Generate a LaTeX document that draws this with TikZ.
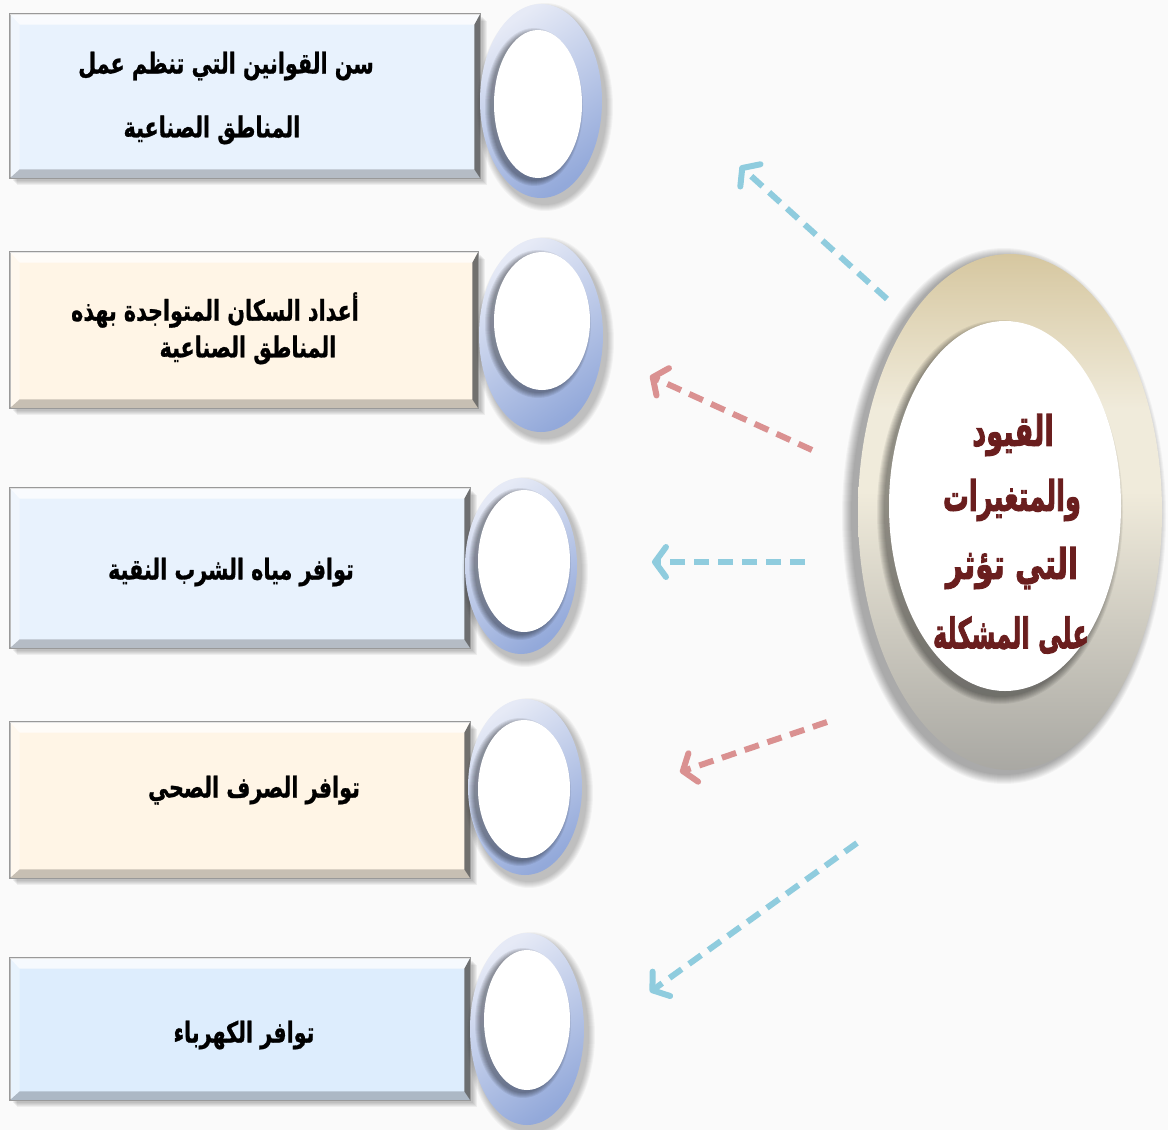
\documentclass[tikz,border=0pt]{standalone}
\usepackage{fontspec}
\newfontfamily\arabicfont[Script=Arabic, BoldFeatures={FakeBold=1}]{DejaVu Sans}
\newfontfamily\arabicheavy[Script=Arabic, BoldFeatures={FakeBold=2.5}]{DejaVu Sans}
\TeXXeTstate=1
\usetikzlibrary{arrows.meta,fit}
\definecolor{bg}{HTML}{FAFAFA}
\definecolor{boxblue}{HTML}{E8F2FD}
\definecolor{boxblueb}{HTML}{DDEDFD}
\definecolor{boxcream}{HTML}{FFF5E6}
\definecolor{ringlight}{HTML}{E6EAF6}
\definecolor{ringdark}{HTML}{93A9DA}
\definecolor{arrblue}{HTML}{8FCCDE}
\definecolor{arrred}{HTML}{DA9191}
\definecolor{maroon}{HTML}{6A1E1E}
\definecolor{tantop}{HTML}{D6C7A0}
\definecolor{tanmid}{HTML}{F0EBDB}
\definecolor{tanbot}{HTML}{A9A8A3}
\pgfdeclareverticalshading{tanshade}{100bp}{color(0bp)=(tanbot); color(25bp)=(tanbot); color(52bp)=(tanmid); color(60bp)=(tanmid); color(75bp)=(tantop); color(100bp)=(tantop)}
\tikzset{
  boxtext/.style={font=\arabicfont\bfseries\fontsize{22}{26}\selectfont, text=black, inner sep=0pt},
  bigtext/.style={font=\arabicheavy\bfseries\fontsize{31}{36}\selectfont, text=maroon, inner sep=0pt},
  dasharrow/.style={line width=6pt, dash pattern=on 15pt off 9pt,
     -{Straight Barb[length=11pt,width=30pt,line cap=round,line join=round]}},
}
\newcommand\bevbox[6]{%
  \foreach \k in {1,...,5}{\fill[black,opacity=0.05] ({#2+2+\k},{#3+2+\k}) rectangle ({#4+2+\k},{#5+2+\k});}
  \coordinate (#1-a) at (#2,#3);
  \coordinate (#1-b) at (#4,#5);
  \node[fit=(#1-a)(#1-b), inner sep=0pt, fill=#6, draw=gray!80, line width=0.8pt] (#1) {};
  \fill[white,opacity=0.75] (#1.north west) -- (#1.north east) -- ([shift={(-6,11)}]#1.north east) -- ([shift={(10,11)}]#1.north west) -- cycle;
  \fill[white,opacity=0.35] (#1.north west) -- ([shift={(10,11)}]#1.north west) -- ([shift={(10,-9)}]#1.south west) -- (#1.south west) -- cycle;
  \fill[black!65,opacity=0.85] (#1.north east) -- (#1.south east) -- ([shift={(-6,-9)}]#1.south east) -- ([shift={(-6,11)}]#1.north east) -- cycle;
  \fill[black,opacity=0.22] (#1.south west) -- (#1.south east) -- ([shift={(-6,-9)}]#1.south east) -- ([shift={(10,-9)}]#1.south west) -- cycle;
  \draw[gray!80,line width=0.8pt] (#1.north west) rectangle (#1.south east);
}
% ring: ox oy orx ory ix iy irx iry
\newcommand\ring[8]{%
  \foreach \k in {1,...,7}{\fill[black,opacity=0.035] ({#1+4},{#2+6}) ellipse [x radius={#3+\k}, y radius={#4+\k}];}
  \shade[top color=ringlight, bottom color=ringdark, shading angle=35] (#1,#2) ellipse [x radius=#3, y radius=#4];
  \foreach \k in {1,...,6}{\fill[black,opacity=0.07] ({#5-4},{#6+3}) ellipse [x radius={#7+\k-1}, y radius={#8+\k-1}];}
  \fill[white] (#5,#6) ellipse [x radius=#7, y radius=#8];
}
\begin{document}
\begin{tikzpicture}[x=1pt,y=-1pt]
\fill[bg] (0,0) rectangle (1168,1130);
\useasboundingbox (0,0) rectangle (1168,1130);

% boxes
\bevbox{b1}{10}{14}{480}{178}{boxblue}
\bevbox{b2}{10}{252}{478}{408}{boxcream}
\bevbox{b3}{10}{488}{470}{648}{boxblue}
\bevbox{b4}{10}{722}{470}{878}{boxcream}
\bevbox{b5}{10}{958}{470}{1100}{boxblueb}

% rings
\ring{541}{101}{61}{97}{538}{104}{44}{74}
\ring{541}{335}{62}{97}{542}{321}{48}{69}
\ring{521}{566}{56}{88}{524}{561}{46}{71}
\ring{525}{787}{57}{88}{524}{789}{46}{69}
\ring{527}{1029}{57}{96}{527}{1020}{43}{70}

% box texts
\node[boxtext] (t1a) at (226,66) {\scalebox{0.94}[1.3]{\beginR سن القوانين التي تنظم عمل\endR}};
\node[boxtext] (t1b) at (212,130) {\scalebox{0.94}[1.3]{\beginR المناطق الصناعية\endR}};
\node[boxtext] (t2a) at (215,310) {\scalebox{0.94}[1.3]{\beginR أعداد السكان المتواجدة بهذه\endR}};
\node[boxtext] (t2b) at (248,350) {\scalebox{0.94}[1.3]{\beginR المناطق الصناعية\endR}};
\node[boxtext] (t3) at (231,572) {\scalebox{0.94}[1.3]{\beginR توافر مياه الشرب النقية\endR}};
\node[boxtext] (t4) at (254,790) {\scalebox{0.94}[1.3]{\beginR توافر الصرف الصحي\endR}};
\node[boxtext] (t5) at (244,1035) {\scalebox{0.94}[1.3]{\beginR توافر الكهرباء\endR}};

% big ellipse
\foreach \k in {1,...,10}{\fill[black,opacity=0.035] (1004,516) ellipse [x radius={152+\k}, y radius={258+\k}];}
\shade[shading=tanshade] (1010,512) ellipse [x radius=152, y radius=258];
\foreach \k in {1,...,8}{\fill[black,opacity=0.06] (1000,512) ellipse [x radius={116+\k-1}, y radius={185+\k-1}];}
\fill[white] (1005,506) ellipse [x radius=116, y radius=185];
\node[bigtext] (c1) at (1013,435) {\scalebox{0.88}[1.35]{\beginR القيود\endR}};
\node[bigtext] (c2) at (1012,500) {\scalebox{0.83}[1.35]{\beginR والمتغيرات\endR}};
\node[bigtext] (c3) at (1012,568) {\scalebox{0.95}[1.35]{\beginR التي تؤثر\endR}};
\node[bigtext] (c4) at (1011,635) {\scalebox{0.78}[1.35]{\beginR على المشكلة\endR}};

% arrows
\coordinate (s1) at (887,299); \coordinate (e1) at (740,166);
\coordinate (s2) at (812,450); \coordinate (e2) at (650,376);
\coordinate (s3) at (805,562); \coordinate (e3) at (652,562);
\coordinate (s4) at (827,722); \coordinate (e4) at (680,772);
\coordinate (s5) at (857,843); \coordinate (e5) at (650,992);
\draw[dasharrow, arrblue] (s1) -- (e1);
\draw[dasharrow, arrred] (s2) -- (e2);
\draw[dasharrow, arrblue] (s3) -- (e3);
\draw[dasharrow, arrred] (s4) -- (e4);
\draw[dasharrow, arrblue] (s5) -- (e5);
\end{tikzpicture}
\end{document}
